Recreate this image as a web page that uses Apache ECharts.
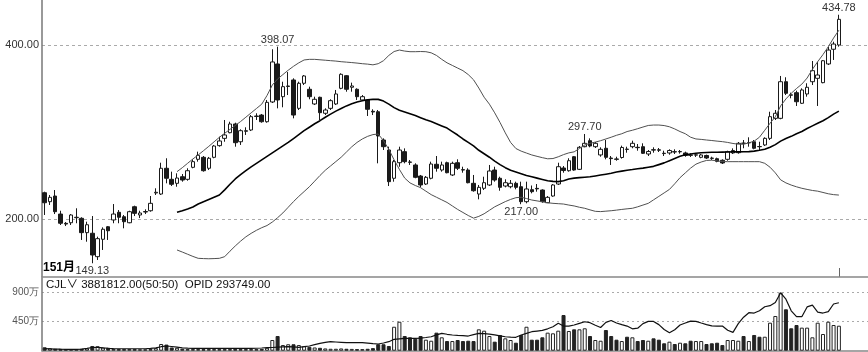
<!DOCTYPE html>
<html>
<head>
<meta charset="utf-8">
<script src="https://cdn.jsdelivr.net/npm/echarts@6/dist/echarts.min.js"></script>
<style>
html, body { margin: 0; padding: 0; background: #fff; }
#kline { width: 868px; height: 352px; }
</style>
</head>
<body>
<div id="kline"></div>
<script>
// daily bars: [open, close, low, high]
const ohlc = [
  [230.2,218.7,204.6,231.4],[219.9,224.9,216.1,227.6],[226.4,208.4,205.7,233.3],[205.7,195.1,193.1,209.5],[195.0,194.2,191.9,196.5],
  [195.7,204.6,193.1,205.7],[201.5,202.0,195.1,212.3],[200.8,184.3,175.9,202.0],[184.3,193.4,173.9,196.9],[183.6,158.6,149.13,203.4],
  [156.7,177.4,152.9,179.7],[176.7,188.2,164.4,190.4],[191.1,186.5,175.9,191.9],[198.9,205.7,195.1,217.2],[207.7,202.0,195.1,210.3],
  [202.6,196.9,189.3,204.6],[195.7,208.4,195.1,209.5],[214.1,206.5,203.4,215.3],[204.6,206.9,201.1,209.5],[208.0,208.6,205.7,211.1],
  [209.5,218.0,208.4,226.4],[229.9,230.7,227.6,235.3],[228.7,258.3,227.6,264.7],[258.3,246.8,241.0,269.8],[245.6,239.9,237.9,254.4],
  [241.0,247.1,237.1,252.5],[248.6,244.8,242.9,251.7],[245.6,255.5,244.0,258.3],[259.4,265.9,258.3,268.6],[268.6,273.2,265.9,277.4],
  [270.9,255.5,254.4,272.4],[258.3,269.8,256.3,271.3],[270.9,283.9,269.8,285.1],[284.3,289.7,283.1,294.6],[292.7,296.6,288.8,313.8],
  [299.2,309.2,298.5,311.8],[309.2,287.7,283.1,310.7],[288.8,301.5,285.1,303.1],[300.8,301.5,296.6,305.4],[302.3,317.6,301.1,319.5],
  [317.8,318.4,313.8,321.5],[319.5,311.8,310.7,320.7],[311.8,334.1,310.7,336.8],[334.5,380.5,333.3,395.1],[378.2,336.8,327.2,398.07],
  [340.6,352.1,328.4,357.8],[352.3,352.9,342.5,368.9],[359.8,319.5,315.7,361.7],[327.2,356.0,325.3,357.8],[356.0,364.4,354.0,365.5],
  [349.1,340.6,337.6,352.1],[332.2,337.6,331.0,340.6],[339.9,322.2,313.8,340.6],[321.5,325.3,319.5,327.2],[327.2,336.0,325.3,337.6],
  [332.2,343.7,331.0,348.3],[350.2,366.3,349.1,367.5],[364.7,349.1,346.3,365.5],[351.4,352.9,346.3,356.7],[349.1,340.6,336.8,350.2],
  [336.8,340.6,335.6,342.5],[336.8,326.1,318.4,337.9],[323.8,323.0,319.5,326.1],[323.3,295.4,264.0,325.3],[290.8,283.1,279.3,292.7],
  [279.3,242.9,237.9,283.1],[246.8,265.9,242.9,267.8],[264.7,279.3,260.1,283.1],[277.4,265.9,264.0,281.2],[265.5,265.2,262.1,267.8],
  [262.1,247.9,246.8,264.0],[249.4,239.1,236.4,250.6],[240.2,247.9,239.1,249.4],[246.8,263.2,245.6,265.9],[262.9,258.3,254.4,272.4],
  [256.3,262.1,254.4,265.9],[264.7,253.2,252.5,265.9],[250.6,264.0,249.4,265.9],[264.7,258.3,256.3,268.6],[256.7,256.3,253.2,260.1],
  [256.3,241.7,241.0,258.3],[241.0,232.5,231.4,250.6],[228.7,236.4,222.6,239.1],[235.3,241.7,233.3,248.6],[239.1,255.2,237.9,262.1],
  [256.3,244.8,242.9,260.1],[246.8,236.4,232.5,248.6],[237.9,241.7,236.4,245.6],[237.1,241.0,235.3,244.8],[241.0,236.4,234.1,242.9],
  [237.1,219.9,217.00,242.9],[219.9,234.5,218.0,242.9],[233.7,231.4,229.5,238.5],[235.2,234.6,231.4,240.2],[233.3,219.9,218.7,234.1],
  [218.7,224.9,218.5,226.4],[226.4,239.1,225.6,240.2],[240.2,260.1,239.1,264.7],[258.6,255.7,253.2,260.9],[255.5,267.0,254.4,269.8],
  [271.6,256.3,255.5,272.4],[257.1,282.4,256.3,283.9],[283.1,287.0,282.4,297.70],[290.0,283.9,282.4,292.7],[283.1,287.0,281.6,288.5],
  [273.6,280.1,271.6,282.4],[281.3,270.9,268.6,290.8],[270.1,269.4,262.1,272.4],[269.0,268.6,267.0,271.6],[270.7,282.2,269.4,284.3],
  [280.3,280.0,276.2,283.1],[283.1,287.0,281.3,290.0],[282.4,282.0,278.5,286.2],[283.1,275.5,274.7,287.0],[274.7,277.6,272.4,279.3],
  [279.6,279.2,276.2,282.4],[279.5,279.1,277.0,281.6],[275.6,275.2,272.4,278.5],[275.9,278.7,273.9,280.1],[277.4,277.0,274.7,280.1],
  [277.2,277.6,275.1,279.3],[275.9,273.0,271.6,277.4],[273.6,273.2,271.3,275.5],[273.4,273.8,271.3,275.5],[270.9,273.6,269.8,274.7],
  [273.0,270.1,269.0,274.0],[270.0,269.7,267.8,271.6],[269.3,266.3,265.2,270.5],[267.5,264.4,263.2,268.6],[268.6,277.4,267.0,278.5],
  [275.9,278.7,274.7,281.2],[276.2,287.0,275.1,288.5],[287.2,287.0,281.3,290.8],[287.5,287.9,283.1,293.9],[288.8,281.3,280.1,290.8],
  [283.3,283.1,279.3,288.8],[285.1,292.7,283.9,293.9],[292.7,317.6,290.8,323.3],[315.7,321.5,313.8,325.3],[315.7,357.8,314.6,364.4],
  [357.8,344.5,342.5,362.9],[342.7,342.3,338.7,345.2],[345.2,334.8,329.9,347.5],[333.0,348.3,332.2,350.2],[343.7,351.4,340.6,356.0],
  [357.8,370.5,354.0,381.6],[361.7,365.5,329.9,380.8],[356.7,381.9,356.0,382.7],[378.2,394.2,377.0,398.0],[395.1,401.1,382.8,403.8],
  [400.0,429.5,398.1,434.78]
];

// volume, in 万
const volume = [
  53,38,30,28,25,22,22,30,35,73, 70,50,45,28,25,25,25,25,22,22,
  25,40,104,95,50,45,30,25,25,25, 25,25,25,25,25,25,28,25,25,25,
  25,28,45,166,228,88,100,100,88,70, 60,50,45,35,30,30,35,30,28,25,
  25,30,40,100,100,73,372,450,228,208, 186,228,171,155,280,208,150,150,166,150,
  155,150,332,311,228,140,244,192,166,124, 244,372,171,171,208,280,270,311,554,306,
  332,332,348,228,166,155,321,228,171,150, 217,208,150,166,155,192,171,115,140,104,
  124,115,155,150,150,104,115,124,88,166, 166,155,228,150,244,217,217,435,539,900,
  643,348,399,358,358,208,435,259,450,399,388.1812
];

// open interest
const opid = [
  12200,11000,9900,9100,8700,8700,8700,9900,13800,19700,
  20900,17700,15000,12600,11800,11800,11800,11800,11800,11800,
  13800,17700,24400,28800,25600,21700,17700,15800,14600,14600,
  14600,14600,14600,14600,14600,14600,14600,14600,14600,14600,
  15000,16500,18500,19700,21700,23600,24800,23600,20900,24400,
  28800,37400,45300,50400,55200,53200,51200,48900,48900,48900,
  48900,46500,43300,41000,47300,55200,69700,72900,75600,75600,
  75600,76800,80800,85500,96500,106400,100500,96100,93800,91800,
  89800,98500,106400,104400,102000,96500,90600,85500,82700,82000,
  96100,106400,116200,120200,124100,134000,146600,167500,150900,150900,
  157200,167500,177300,171400,155600,141800,173400,185200,169400,159600,
  150900,134000,137900,165500,179300,179300,159600,130000,110300,128100,
  157600,169400,181200,179300,169400,159600,151700,150900,150900,125000,
  112300,165500,204900,232500,230500,244300,269100,275800,295500,354600,
  315200,244300,208000,208000,268000,279300,236400,230500,238800,285700,293749
];

// Bollinger band, starting at bar bollStart
const bollStart = 25;
const bollMid = [
  207.7,209.5,211.5,213.8,217.2,219.8,222.4,225.0,227.6,233.5,
  240,246,251,255.5,260,264,268,272,276,280,
  284,288,292.5,297,301.5,305.5,309.5,313,317,320.5,
  324,327,330,332.5,334.5,336,337,337.5,337.5,335.5,
  332,328,325,323,321,319,316.5,314,312,309.5,
  307,304.5,300.5,296.5,292,288,284,279,275,271,
  266.5,262.5,259,256,254,252,250,248.5,247,245.5,
  244,243.2,243,244,246,247,247.5,248,248.5,249.5,
  250.5,251.5,252.5,254,255,256,256.8,257.7,258.5,259.5,
  260.5,262.5,264.5,267,269.5,272,273.8,274.8,275.6,276.2,
  276.5,276.7,276.8,276.9,277,277.1,277.2,277.3,277.4,278,
  279,280.1,282.5,285.5,289.5,292.5,295,298,300.5,304,
  307,310,313,316.5,320.5,324
];
const bollUp = [
  254.4,259,264,269,273.6,278.5,283.5,288.7,293.9,298.5,
  303,307.5,312,317,322,327,332,342,354,361,
  366,371,375.5,379.5,382.8,383.5,383.5,383,382.5,382,
  381.5,380.8,380.3,379.8,379.2,378.5,378,377.2,378.5,382,
  388,392.5,394.2,393,392.3,392.3,392.5,392.3,391,388,
  383.5,379.5,376.5,373.5,370.5,366,360,350.5,340,332,
  322,311,299,288,281,278,275.8,273.6,272,270.5,
  269.2,269.5,271.5,274,276,277.2,281,285,287,288.4,
  290,292,294,296.2,298,300.5,302,303.8,305.7,307.5,
  308,308,307.4,306,303.5,300.5,298,294,292,291.5,
  290.8,290.2,289.5,288.9,288,286.8,286,285.9,287.5,289.5,
  294,302,310,317.5,330,338,344.5,350,355,362,
  372,380.8,389,398,408,417
];
const bollDn = [
  164.4,162,159.5,157,154.8,154.5,154.3,154.5,154.8,156.7,
  163,169,174.5,179.5,183.5,187,190,192.5,196.5,201.5,
  207,213.5,220,226,231.5,237.1,243.5,250,256,261,
  266,271,277,283,288,292,295,297,297.7,290,
  280,268,257,247,241.5,238.5,236,232,228,225,
  222,219,215,211,207.5,204,201,203,206,210,
  214,217,220,222.5,224.5,225,223.5,221.8,220.8,219.8,
  218.7,218,217.6,217.2,216,215,213.5,212.3,210.5,208.8,
  208.5,209,209.5,210.2,211,211.7,212.3,214,216,218,
  222,226,230,234,240.5,247.5,253,258.5,263,265.5,
  267.3,267.6,266.8,266,265.9,265.9,265.9,265.9,265.9,265.9,
  265.9,264,259.5,253,245,241.5,239,237,235.3,234,
  232.8,232,230.5,229,228,227.5
];

const priceTicks = [200, 400];
const volTicks = [450, 900];
// labelled extremes: [bar index, which end]
const marks = [[9, 'low'], [44, 'high'], [90, 'low'], [102, 'high'], [150, 'high']];

const n = ohlc.length;
const padSlots = 5;
const cats = [];
for (let i = 0; i < n + padSlots; i++) cats.push(i < n ? String(i + 1) : '');

const lead = new Array(bollStart).fill('-');
const numFont = 'Liberation Sans, Arial, sans-serif';

const volData = volume.map((v, i) => {
  const up = ohlc[i][1] >= ohlc[i][0];
  return {
    value: v,
    itemStyle: up
      ? { color: '#fff', borderColor: '#222', borderWidth: 1 }
      : { color: '#222', borderColor: '#222', borderWidth: 1 }
  };
});

const markData = marks.map(([i, kind]) => {
  const v = kind === 'high' ? ohlc[i][3] : ohlc[i][2];
  return {
    coord: [i, v],
    value: v.toFixed(2),
    label: { position: kind === 'high' ? 'top' : 'bottom', distance: kind === 'high' ? 1 : 2 }
  };
});

const chart = echarts.init(document.getElementById('kline'));
let option = {
  animation: false,
  backgroundColor: '#fff',
  grid: [
    { left: 42, right: 0, top: 0, height: 277, outerBoundsMode: 'none' },
    { left: 42, right: 0, top: 278, height: 72.7, outerBoundsMode: 'none' }
  ],
  xAxis: [
    {
      type: 'category', gridIndex: 0, data: cats, boundaryGap: true,
      axisLine: { show: true, onZero: false, lineStyle: { color: '#888', width: 1.5 } },
      axisTick: { show: false }, axisLabel: { show: false }, splitLine: { show: false }
    },
    {
      type: 'category', gridIndex: 1, data: cats, boundaryGap: true,
      axisLine: { show: true, onZero: false, lineStyle: { color: '#888', width: 1.5 } },
      axisTick: { show: false }, axisLabel: { show: false }, splitLine: { show: false }
    }
  ],
  yAxis: [
    {
      type: 'value', gridIndex: 0, min: 133.33, max: 451.72, position: 'left',
      axisLine: { show: true, lineStyle: { color: '#777', width: 1.5 } },
      axisTick: { show: false, customValues: priceTicks },
      axisLabel: {
        customValues: priceTicks, margin: 3, color: '#333',
        fontFamily: numFont, fontSize: 11,
        formatter: v => v.toFixed(2)
      },
      splitLine: { show: true, lineStyle: { color: '#aaa', type: [3, 3], width: 1 } }
    },
    {
      type: 'value', gridIndex: 1, min: 0, max: 1129, position: 'left',
      axisLine: { show: true, lineStyle: { color: '#777', width: 1.5 } },
      axisTick: { show: false, customValues: volTicks },
      axisLabel: {
        customValues: volTicks, margin: 3, color: '#555',
        fontFamily: numFont, fontSize: 10,
        formatter: v => v + '万'
      },
      splitLine: { show: true, lineStyle: { color: '#aaa', type: [2, 3], width: 1 } }
    },
    {
      type: 'value', gridIndex: 1, min: 0, max: 445000, show: false,
      splitLine: { show: false }
    }
  ],
  series: [
    {
      type: 'candlestick', xAxisIndex: 0, yAxisIndex: 0, data: ohlc,
      barWidth: 4,
      itemStyle: { color: '#fff', color0: '#1a1a1a', borderColor: '#1a1a1a', borderColor0: '#1a1a1a', borderWidth: 1 },
      markPoint: {
        symbol: 'circle', symbolSize: 1,
        itemStyle: { color: 'rgba(0,0,0,0)' },
        label: { show: true, formatter: '{c}', color: '#333', fontFamily: numFont, fontSize: 11 },
        data: markData
      }
    },
    {
      type: 'line', xAxisIndex: 0, yAxisIndex: 0, data: lead.concat(bollMid),
      symbol: 'none', silent: true, lineStyle: { color: '#000', width: 1.6 }
    },
    {
      type: 'line', xAxisIndex: 0, yAxisIndex: 0, data: lead.concat(bollUp),
      symbol: 'none', silent: true, lineStyle: { color: '#505050', width: 1 }
    },
    {
      type: 'line', xAxisIndex: 0, yAxisIndex: 0, data: lead.concat(bollDn),
      symbol: 'none', silent: true, lineStyle: { color: '#505050', width: 1 }
    },
    {
      type: 'bar', xAxisIndex: 1, yAxisIndex: 1, data: volData, barWidth: 4, silent: true
    },
    {
      type: 'line', xAxisIndex: 1, yAxisIndex: 2, data: opid,
      symbol: 'none', silent: true, lineStyle: { color: '#111', width: 1.2 }
    }
  ]
};
chart.setOption(option);

// header texts and the date tick
const lastX = chart.convertToPixel({ xAxisIndex: 0 }, n - 1);
const header = 'CJL\u2228 ' + (volume[n - 1] * 10000).toFixed(2) + '(50:50)  OPID ' + opid[n - 1].toFixed(2);
chart.setOption({
  graphic: [
    {
      type: 'text', left: 43, top: 262, silent: true,
      style: { text: '151月', fill: '#000', font: 'bold 12px Liberation Sans, Noto Sans CJK SC, sans-serif' }
    },
    {
      type: 'text', left: 46, top: 279, silent: true,
      style: { text: header, fill: '#111', font: '11.5px Liberation Sans, Noto Sans CJK SC, sans-serif' }
    },
    {
      type: 'line', silent: true,
      shape: { x1: Math.round(lastX) + 0.5, y1: 268, x2: Math.round(lastX) + 0.5, y2: 277 },
      style: { stroke: '#666', lineWidth: 1 }
    }
  ]
});
</script>
</body>
</html>
